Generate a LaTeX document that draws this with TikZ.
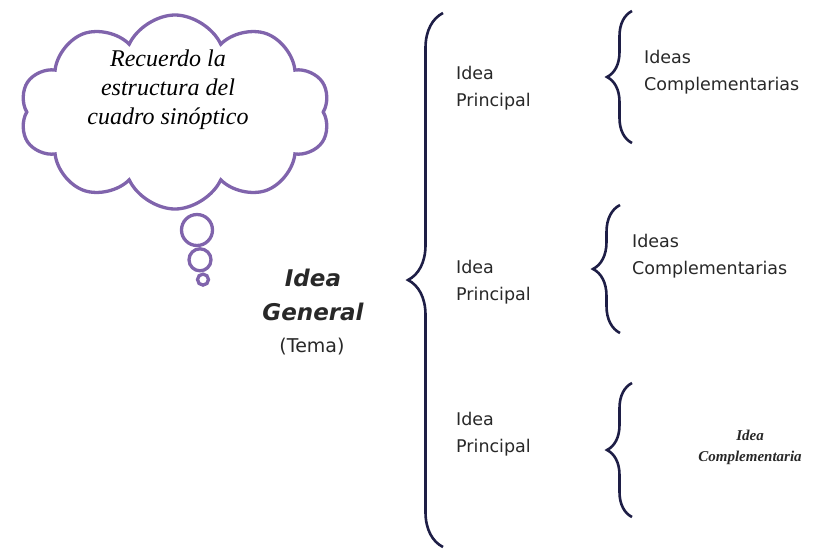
\documentclass[tikz,border=0pt]{standalone}
\usepackage{fontspec}
\newfontfamily\handfont{DejaVu Sans}
\newfontfamily\bookfont{Liberation Serif}
\usetikzlibrary{shapes.symbols,decorations.pathreplacing,positioning}

\definecolor{bubble}{RGB}{128,100,172}
\definecolor{bracecol}{RGB}{30,30,70}
\definecolor{inkgray}{RGB}{40,40,40}

\tikzset{
  ideabox/.style={font=\handfont\fontsize{17.5}{27}\selectfont, text=inkgray, align=left, inner sep=0pt, anchor=west},
  curly/.style={draw=bracecol, line width=2.6pt, decorate, decoration={brace, amplitude=#1}},
  puff/.style={circle, draw=bubble, line width=3.3pt, inner sep=0pt, minimum size=#1},
}

\begin{document}
\begin{tikzpicture}[x=1pt, y=-1pt]
    \useasboundingbox (0,0) rectangle (819,550);

    % thought cloud
    \node[cloud, draw=bubble, line width=3.3pt, cloud puffs=10, cloud puff arc=130,
          cloud ignores aspect, minimum width=310pt, minimum height=194pt] (cloud) at (175,112) {};
    \node[font=\bookfont\itshape\fontsize{24}{29}\selectfont, align=center] (note) at (168,90)
        {Recuerdo la\\estructura del\\cuadro sinóptico};
    \node[puff=31pt] (b1) at (197,230) {};
    \node[puff=22pt, below=0pt of b1, xshift=3pt] (b2) {};
    \node[puff=11pt, below=0pt of b2, xshift=3pt] (b3) {};

    % topic
    \node[font=\handfont\bfseries\itshape\fontsize{23}{34}\selectfont, text=inkgray, align=center] (general) at (313,295) {Idea\\General};
    \node[font=\handfont\fontsize{19}{22}\selectfont, text=inkgray] (tema) at (312,347) {(Tema)};

    % main ideas
    \node[ideabox] (p1) at (456,88) {Idea\\Principal};
    \node[ideabox] (p2) at (456,282) {Idea\\Principal};
    \node[ideabox] (p3) at (456,434) {Idea\\Principal};

    % complementary ideas
    \node[ideabox] (c1) at (644,72) {Ideas\\Complementarias};
    \node[ideabox] (c2) at (632,256) {Ideas\\Complementarias};
    \node[font=\bookfont\bfseries\itshape\fontsize{15}{21}\selectfont, text=inkgray, align=center] (c3) at (750,447) {Idea\\Complementaria};

    % braces
    \coordinate (g-bot) at (443,547);  \coordinate (g-top) at (443,13);
    \coordinate (k1-bot) at (632,143); \coordinate (k1-top) at (632,11);
    \coordinate (k2-bot) at (620,333); \coordinate (k2-top) at (620,205);
    \coordinate (k3-bot) at (632,517); \coordinate (k3-top) at (632,383);
    \draw[curly=35pt] (g-bot) -- (g-top);
    \draw[curly=25pt] (k1-bot) -- (k1-top);
    \draw[curly=27pt] (k2-bot) -- (k2-top);
    \draw[curly=25pt] (k3-bot) -- (k3-top);
\end{tikzpicture}
\end{document}
